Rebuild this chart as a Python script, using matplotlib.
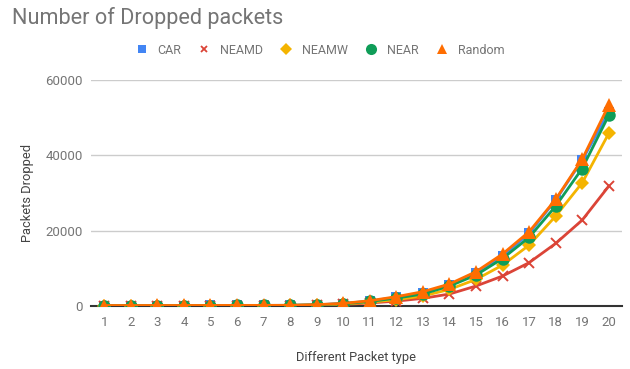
import matplotlib
matplotlib.use("Agg")
import matplotlib.pyplot as plt
from matplotlib.lines import Line2D

plt.rcParams['font.family'] = ['Roboto', 'DejaVu Sans']

packet_types = list(range(1, 21))

car = [120, 120, 130, 130, 140, 150, 160, 180, 330, 650, 1300, 2300, 3530, 5560,
       8650, 13250, 19250, 28100, 38700, 51500]
neamd = [60, 60, 70, 70, 80, 90, 100, 120, 200, 400, 800, 1300, 2030, 3180,
         5300, 7950, 11500, 16600, 22800, 31800]
neamw = [90, 90, 100, 100, 110, 120, 130, 150, 260, 500, 1000, 1700, 2650, 4400,
         7050, 10850, 16150, 23850, 32700, 45800]
near = [110, 110, 120, 120, 130, 140, 150, 170, 310, 600, 1200, 2100, 3180, 5300,
        8200, 12600, 18200, 26500, 36500, 50600]
random_ = [130, 130, 140, 140, 150, 160, 170, 190, 360, 700, 1400, 2470, 3800, 5830,
           9100, 13800, 19700, 28300, 38950, 53300]

# name, values, colour, marker, plot marker size, legend marker size
series = [
    ("CAR", car, "#4285F4", "s", 7.5, 6),
    ("NEAMD", neamd, "#DB4437", "x", 6.5, 5),
    ("NEAMW", neamw, "#F4B400", "D", 7, 6),
    ("NEAR", near, "#0F9D58", "o", 9, 8),
    ("Random", random_, "#FF6D00", "^", 9.5, 7.5),
]

fig = plt.figure(figsize=(6.3, 3.69), dpi=100)
ax = fig.add_axes([91 / 630, 63 / 369, 531 / 630, 226 / 369])

for name, vals, color, marker, ms, _ in series:
    ax.plot(packet_types, vals, color=color, linewidth=2, marker=marker,
            markersize=ms, markeredgewidth=1.4 if marker == "x" else 0,
            markeredgecolor=color, label=name, zorder=3)

ax.set_xlim(0.5, 20.5)
ax.set_ylim(0, 60000)
ax.set_xticks(packet_types)
ax.set_yticks([0, 20000, 40000, 60000])
ax.tick_params(axis='both', length=0, labelsize=9.5, labelcolor='#757575')
ax.tick_params(axis='x', pad=7)
ax.tick_params(axis='y', pad=6)
ax.grid(axis='y', color='#cccccc', linewidth=1)
ax.set_axisbelow(True)
for side in ['top', 'right', 'left']:
    ax.spines[side].set_visible(False)
ax.spines['bottom'].set_color('#333333')
ax.spines['bottom'].set_linewidth(1.5)
ax.spines['bottom'].set_zorder(2)

ax.set_xlabel('Different Packet type', fontsize=9.3, color='#444444', labelpad=16)
ax.set_ylabel('Packets Dropped', fontsize=9.3, color='#444444', labelpad=8)

fig.text(12 / 630, 1 - 18 / 369, 'Number of Dropped packets', fontsize=15.6,
         color='#757575', va='center', ha='left')

handles = [Line2D([], [], linestyle='none', marker=m, color=c, markersize=lms,
                  markeredgewidth=1.3 if m == 'x' else 0, markeredgecolor=c)
           for _, _, c, m, _, lms in series]
fig.legend(handles, [s[0] for s in series], loc='center', ncol=5,
           bbox_to_anchor=(320 / 630, 1 - 50 / 369), frameon=False,
           fontsize=9, labelcolor='#757575', handletextpad=0.78,
           columnspacing=1.34, handlelength=1.0)

fig.savefig('out.png', dpi=100)
